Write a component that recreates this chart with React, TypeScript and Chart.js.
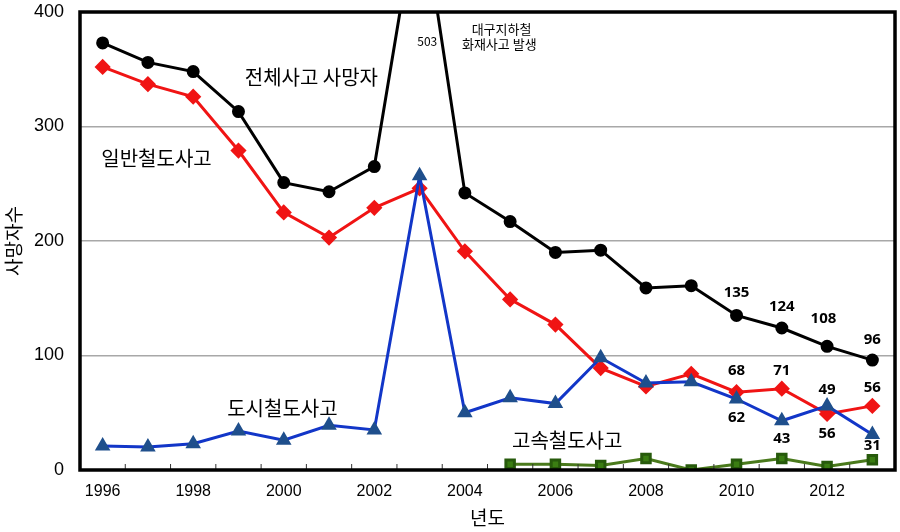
import React, { useEffect, useRef } from "react";
import { Chart, registerables } from "chart.js";

Chart.register(...registerables);

const years = [1996, 1997, 1998, 1999, 2000, 2001, 2002, 2003, 2004, 2005, 2006, 2007, 2008, 2009, 2010, 2011, 2012, 2013];
const totalDeaths = [373, 356, 348, 313, 251, 243, 265, 503, 242, 217, 190, 192, 159, 161, 135, 124, 108, 96];
const generalDeaths = [352, 337, 326, 279, 225, 203, 229, 246, 191, 149, 127, 89, 73, 84, 68, 71, 49, 56];
const urbanDeaths = [21, 20, 23, 34, 26, 39, 35, 257, 50, 63, 58, 98, 76, 77, 62, 43, 56, 31];
const highSpeedDeaths = [null, null, null, null, null, null, null, null, null, 5, 5, 4, 10, 0, 5, 10, 3, 9];
const yTicks = [0, 100, 200, 300, 400];
const xTickLabels = ["1996", "1998", "2000", "2002", "2004", "2006", "2008", "2010", "2012"];

// value labels: [year, seriesValue, label anchor value]
const totalLabels = [
  [2010, 135, 155],
  [2011, 124, 143],
  [2011.92, 108, 132.5],
  [2013, 96, 114],
];
const generalLabels = [
  [2010, 68, 87],
  [2011, 71, 87],
  [2012, 49, 70],
  [2013, 56, 72],
];
const urbanLabels = [
  [2010, 62, 45.5],
  [2011, 43, 27],
  [2012, 56, 31.5],
  [2013, 31, 21],
];

// annotations: [text, year, value, font size]
const annotations: [string, number, number, number][] = [
  ["전체사고 사망자", 2000.61, 343, 20],
  ["일반철도사고", 1997.19, 272.5, 20],
  ["도시철도사고", 1999.97, 54, 20],
  ["고속철도사고", 2006.26, 26, 20],
  ["503", 2003.17, 374, 12],
  ["대구지하철", 2004.81, 385, 13],
  ["화재사고 발생", 2004.76, 372, 13],
];

const toPoints = (arr: (number | null)[]) => years.map((y, i) => ({ x: y, y: arr[i] }));

const KR = '"Noto Sans CJK KR", "Noto Sans", sans-serif';

const zeroPad = (s: any) => {
  s.paddingTop = 0;
  s.paddingBottom = 0;
  s.paddingLeft = 0;
  s.paddingRight = 0;
};

const overlayPlugin = {
  id: "overlay",
  afterDraw(chart: any) {
    const { ctx, chartArea, scales } = chart;
    const xs = scales.x;
    const ys = scales.y;
    ctx.save();
    // inner tick marks at category boundaries
    ctx.strokeStyle = "#333";
    ctx.lineWidth = 1;
    for (let i = 0; i < years.length - 1; i++) {
      const px = xs.getPixelForValue(years[i] + 0.5);
      ctx.beginPath();
      ctx.moveTo(px, chartArea.bottom);
      ctx.lineTo(px, chartArea.bottom - 6);
      ctx.stroke();
    }
    // frame
    ctx.strokeStyle = "#000";
    ctx.lineWidth = 3.5;
    ctx.strokeRect(chartArea.left, chartArea.top, chartArea.right - chartArea.left, chartArea.bottom - chartArea.top);

    ctx.textAlign = "center";
    ctx.textBaseline = "middle";
    ctx.fillStyle = "#000";
    for (const [text, x, y, size] of annotations) {
      ctx.font = `${size}px ${KR}`;
      ctx.fillText(text, xs.getPixelForValue(x), ys.getPixelForValue(y));
    }
    ctx.font = `bold 15px "Open Sans", "DejaVu Sans", sans-serif`;
    for (const group of [totalLabels, generalLabels, urbanLabels]) {
      for (const [x, v, y] of group) {
        ctx.fillText(String(v), xs.getPixelForValue(x), ys.getPixelForValue(y));
      }
    }
    ctx.restore();
  },
};

export default function App() {
  const ref = useRef<HTMLCanvasElement | null>(null);
  useEffect(() => {
    if (!ref.current) return;
    const chart = new Chart(ref.current, {
      type: "line",
      data: {
        datasets: [
          {
            label: "전체사고 사망자",
            data: toPoints(totalDeaths),
            borderColor: "#000000",
            backgroundColor: "#000000",
            borderWidth: 3,
            pointStyle: "circle",
            pointRadius: 5,
          },
          {
            label: "도시철도사고",
            data: toPoints(urbanDeaths),
            borderColor: "#1236c8",
            backgroundColor: "#1f4f8c",
            pointBorderColor: "#1f4f8c",
            borderWidth: 3,
            pointStyle: "triangle",
            pointRadius: 6,
          },
          {
            label: "일반철도사고",
            data: toPoints(generalDeaths),
            borderColor: "#f01414",
            backgroundColor: "#f01414",
            borderWidth: 3,
            pointStyle: "rectRot",
            pointRadius: 6,
          },
          {
            label: "고속철도사고",
            data: toPoints(highSpeedDeaths),
            borderColor: "#4a7a1c",
            backgroundColor: "#3a7d12",
            pointBorderColor: "#275a0c",
            borderWidth: 3,
            pointStyle: "rect",
            pointRadius: 6,
          },
        ],
      },
      options: {
        animation: false,
        responsive: true,
        maintainAspectRatio: false,
        layout: { autoPadding: false, padding: { top: 12, right: 5, left: 0, bottom: 0 } },
        plugins: { legend: { display: false }, tooltip: { enabled: false } },
        scales: {
          x: {
            type: "linear",
            min: 1995.5,
            max: 2013.5,
            afterFit: (s: any) => {
              s.height = 62;
              zeroPad(s);
            },
            afterBuildTicks: (s: any) => {
              s.ticks = xTickLabels.map((t) => ({ value: Number(t) }));
            },
            grid: { display: false, drawTicks: false },
            border: { display: false },
            ticks: {
              autoSkip: false,
              maxRotation: 0,
              padding: 12,
              color: "#000",
              font: { family: '"Liberation Sans", Arial, sans-serif', size: 16 },
              callback: (v: any) => String(v),
            },
            title: {
              display: true,
              text: "년도",
              color: "#000",
              font: { family: KR, size: 19 },
              padding: { top: 0, bottom: 3 },
            },
          },
          y: {
            min: 0,
            max: 400,
            afterFit: (s: any) => {
              s.width = 80;
              zeroPad(s);
            },
            afterBuildTicks: (s: any) => {
              s.ticks = yTicks.map((v) => ({ value: v }));
            },
            grid: { color: "#a8a8a8", lineWidth: 1.5, drawTicks: false },
            border: { display: false },
            ticks: {
              padding: 16,
              color: "#000",
              font: { family: '"Liberation Sans", Arial, sans-serif', size: 18 },
            },
            title: {
              display: true,
              text: "사망자수",
              color: "#000",
              font: { family: KR, size: 19 },
              padding: { top: 2, bottom: 0 },
            },
          },
        },
      },
      plugins: [overlayPlugin],
    } as any);
    return () => chart.destroy();
  }, []);
  return (
    <div style={{ position: "fixed", left: 0, top: 0, width: 900, height: 532, background: "#fff" }}>
      <canvas ref={ref} />
    </div>
  );
}
